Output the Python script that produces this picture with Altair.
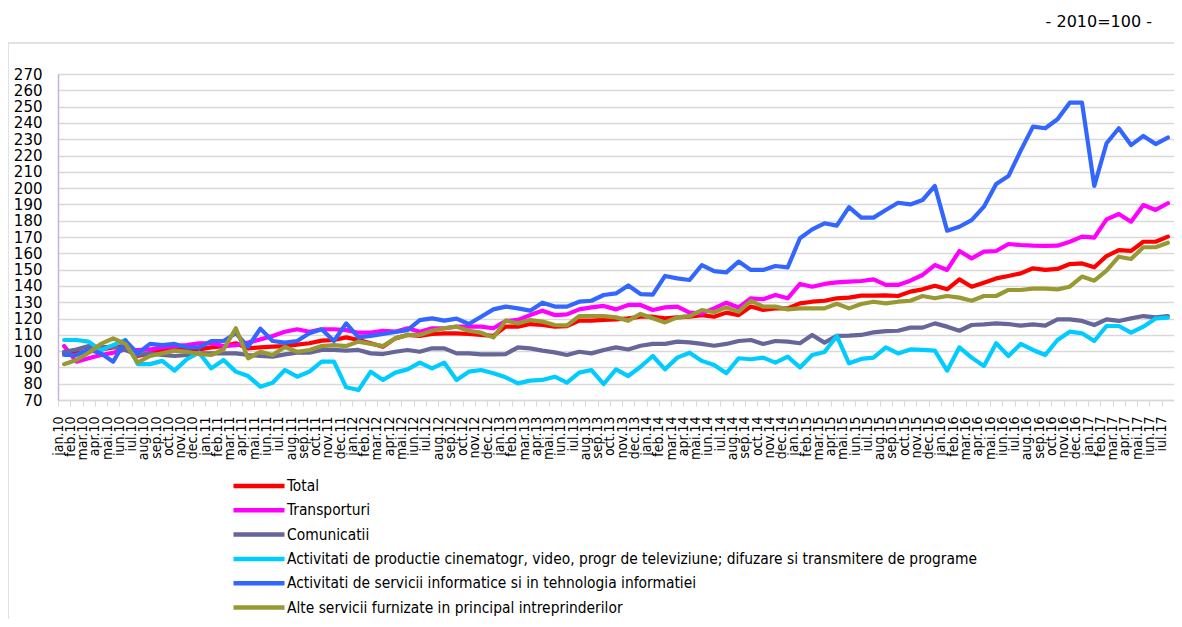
import altair as alt
import pandas as pd

luni = ["jan.", "feb.", "mar.", "apr.", "mai.", "iun.", "iul.", "aug.", "sep.", "oct.", "nov.", "dec."]
ani = ["10", "11", "12", "13", "14", "15", "16", "17"]
perioade = [m + a for a in ani for m in luni][:91]

total = [
    98.6, 99, 99.6, 101, 102.3, 103.1, 97, 98.6, 100.3, 100.7, 101, 101,
    102.3, 103.1, 104.8, 101.7, 102.3, 102.7, 103.1, 104, 104.8, 106.4, 106.8, 108.4,
    106.8, 104.8, 102.7, 107.8, 109.9, 109.3, 110.5, 110.9, 110.9, 110.5, 109.9, 109.3,
    115, 115, 116.6, 116, 115, 115.3, 118.7, 118.7, 119.1, 119.5, 120.1, 121.1,
    121.1, 120.1, 120.7, 121.1, 122.1, 121.1, 123.6, 122.1, 127.3, 125.2, 126.2, 126.2,
    129.3, 130.3, 130.9, 132.4, 132.8, 134, 134, 134.2, 133.8, 136.5, 137.9, 140.1,
    137.9, 144, 139.5, 142, 144.6, 146.1, 147.7, 150.8, 149.8, 150.4, 153.4, 153.8,
    151.4, 158.3, 162, 161.5, 167.1, 167.1, 170.2,
]
transporturi = [
    103.1, 93.5, 95.6, 97.6, 99, 101, 100.6, 101, 102.3, 103.1, 103.7, 104.8,
    104.8, 103.1, 103.7, 105.2, 107.2, 109.3, 111.9, 113.4, 111.9, 113.4, 113.4, 112.9,
    111.3, 111.3, 112.5, 111.9, 114, 111.9, 114, 114, 115, 115, 115, 114,
    118.5, 119.1, 122.1, 124.8, 122.1, 122.5, 125.6, 126.8, 127.7, 125.6, 128.3, 128.3,
    125.2, 126.8, 127.3, 123.6, 123.2, 126.2, 129.7, 126.8, 132.4, 131.8, 134.4, 132.4,
    141.2, 139.5, 141.2, 142.2, 142.6, 143, 144, 140.6, 140.6, 143.2, 146.7, 152.8,
    149.8, 161.4, 156.9, 161, 161.4, 165.7, 165.1, 164.7, 164.5, 164.7, 167.1, 170.2,
    169.6, 180.8, 184.1, 179.4, 189.6, 186.6, 190.7,
]
comunicatii = [
    99.6, 101, 103.1, 102.3, 102.7, 100.6, 97.6, 98.6, 97.6, 97, 97.6, 98.6,
    98.6, 98.6, 98.6, 97.6, 97, 96.6, 98, 99, 99, 100.7, 100.7, 100.3,
    100.7, 98.6, 98.2, 99.6, 100.7, 99.6, 101.7, 101.7, 98.6, 98.6, 98, 98,
    98.2, 102.3, 101.7, 100.3, 99.2, 97.6, 99.6, 98.6, 100.7, 102.3, 101, 103.3,
    104.4, 104.4, 105.8, 105.4, 104.4, 103.3, 104.4, 106.2, 106.8, 104.4, 106.2, 105.8,
    104.8, 109.9, 105.2, 109.3, 109.5, 109.9, 111.5, 112.3, 112.5, 114.4, 114.4, 117,
    115, 112.5, 116, 116.4, 117, 116.6, 115.6, 116.4, 115.6, 119.5, 119.5, 118.5,
    116, 119.5, 118.5, 120.1, 121.5, 120.7, 121.5,
]
cinematografie = [
    106.8, 106.8, 105.8, 100.6, 103.7, 106.8, 92, 92, 94, 88, 95, 99,
    89.4, 94.5, 87.4, 84.7, 78.2, 80.6, 88.4, 84.3, 87.4, 93.5, 93.5, 77.8,
    76.1, 87.4, 82.3, 86.8, 88.8, 92.9, 89.4, 92.9, 82.3, 87.4, 88.4, 86.4,
    83.9, 80.2, 81.9, 82.3, 84.3, 80.6, 86.8, 88.4, 79.8, 88.8, 84.7, 90.4,
    97, 88.8, 96, 99, 94, 91.5, 86.4, 95.6, 95, 96, 92.9, 96.6,
    90, 97.6, 99.4, 109.3, 92.5, 95.2, 96, 102.3, 98.6, 101, 100.7, 100.3,
    88, 102.3, 96, 90.9, 104.8, 97, 104.4, 100.7, 97.6, 106.8, 111.9, 110.9,
    106.2, 115.4, 115.4, 111.3, 115, 120, 120.5,
]
informatica = [
    97.6, 97.6, 101, 98.6, 93.5, 106.4, 98.6, 104.4, 103.7, 104.4, 102.3, 102.3,
    106.2, 106.2, 110.9, 102.7, 113.8, 106.2, 105.2, 106.2, 110.9, 113.4, 106.2, 117,
    108.4, 109.3, 110.5, 111.7, 112.9, 119, 120.1, 118.7, 119.9, 116.6, 121.1, 125.6,
    127.3, 126.2, 124.8, 129.7, 127.3, 127.3, 130.3, 130.9, 134.4, 135.4, 140.3, 135,
    134.6, 146.1, 144.6, 143.6, 152.8, 149.1, 148.3, 154.9, 149.8, 149.8, 152.2, 151.4,
    169.2, 174.7, 178.4, 177, 188.3, 181.9, 181.9, 186.6, 191, 190, 192.7, 201.3,
    173.9, 176.3, 180.4, 188.6, 202.5, 207.4, 223, 237.7, 236.7, 242.2, 252.4, 252.4,
    201.3, 227.5, 236.7, 226.4, 232, 227, 231,
]
alte_servicii = [
    92, 94.5, 99, 104.4, 107.8, 104.4, 93, 97, 98.6, 100.3, 99.6, 98.2,
    97.6, 101, 114, 95.6, 99.6, 97.6, 102.5, 99.6, 100.7, 103.1, 103.7, 103.1,
    105.8, 104.4, 103.1, 107.8, 109.9, 109.9, 112.5, 114, 115, 112.5, 111.3, 108.4,
    118.7, 117, 119.1, 118.1, 116, 115.8, 121.5, 121.5, 121.5, 120.7, 118.7, 122.8,
    120.1, 117.6, 120.7, 121.5, 125.2, 123.8, 126.8, 124.2, 130.9, 127.3, 127.3, 125.6,
    126.2, 126.2, 126.2, 129, 126.2, 128.9, 130.3, 129.3, 130.3, 130.9, 133.8, 132.4,
    133.8, 132.8, 130.9, 133.8, 133.8, 137.5, 137.5, 138.3, 138.3, 137.9, 139.5, 145.7,
    143.2, 149.3, 157.9, 156.5, 163.7, 163.7, 166.5,
]

serii = [
    "Total",
    "Transporturi",
    "Comunicatii",
    "Activitati de productie cinematogr, video, progr de televiziune; difuzare si transmitere de programe",
    "Activitati de servicii informatice si in tehnologia informatiei",
    "Alte servicii furnizate in principal intreprinderilor",
]
culori = ["#FF0000", "#FF00FF", "#666699", "#00CCFF", "#3366FF", "#999933"]
valori = [total, transporturi, comunicatii, cinematografie, informatica, alte_servicii]
y_ticks = list(range(70, 271, 10))

rows = []
for nume, vals in zip(serii, valori):
    for p, v in zip(perioade, vals):
        rows.append({"Perioada": p, "Serie": nume, "Valoare": v})
df = pd.DataFrame(rows)

W = 1116
H = 326
band = W / len(perioade)

border = alt.Chart(pd.DataFrame({"k": [0]})).mark_rect(
    filled=False, stroke="#D9D9D9", strokeWidth=1.5
).encode(
    x=alt.value(-50), x2=alt.value(1300), y=alt.value(-31), y2=alt.value(700)
)

lines = alt.Chart(df).mark_line(strokeWidth=4.2, strokeJoin="round", strokeCap="round").encode(
    x=alt.X(
        "Perioada:O",
        sort=perioade,
        axis=alt.Axis(
            title=None,
            labelAngle=-90,
            labelFont="DejaVu Sans Condensed",
            labelFontSize=14,
            labelColor="black",
            labelOverlap=False,
            labelPadding=10,
            tickColor="#D9D9D9",
            tickSize=6,
            tickOffset=-band / 2,
            domainColor="#D9D9D9",
            domainWidth=1.5,
            grid=False,
        ),
    ),
    y=alt.Y(
        "Valoare:Q",
        scale=alt.Scale(domain=[70, 270], nice=False, zero=False),
        axis=alt.Axis(
            title=None,
            values=y_ticks,
            labelFont="DejaVu Sans",
            labelFontSize=15,
            labelColor="black",
            ticks=False,
            tickSize=0,
            labelPadding=16,
            domainColor="#CDB0D8",
            domainWidth=1.5,
            gridColor="#D9D9D9",
            gridWidth=1.5,
        ),
    ),
    color=alt.Color(
        "Serie:N",
        sort=serii,
        scale=alt.Scale(domain=serii, range=culori),
        legend=alt.Legend(
            title=None,
            orient="none",
            legendX=173,
            legendY=404,
            direction="vertical",
            symbolType="stroke",
            symbolSize=2601,
            symbolStrokeWidth=4.5,
            clipHeight=16,
            rowPadding=7.3,
            labelFont="DejaVu Sans Condensed",
            labelFontSize=15.4,
            labelColor="black",
            labelOffset=0,
            labelLimit=2000,
            padding=0,
        ),
    ),
)

chart = alt.layer(border, lines).properties(
    width=W,
    height=H,
    padding={"left": 50, "top": 66, "right": 0, "bottom": 219},
    autosize=alt.AutoSizeParams(type="none"),
    title=alt.TitleParams(
        "- 2010=100 -",
        anchor="end",
        frame="group",
        font="DejaVu Sans",
        fontSize=16,
        fontWeight="normal",
        color="black",
        dx=-22,
        offset=12,
    ),
).configure_view(strokeWidth=0).configure(background="white")

chart.save("out.html", embed_options={"renderer": "svg", "actions": False})
